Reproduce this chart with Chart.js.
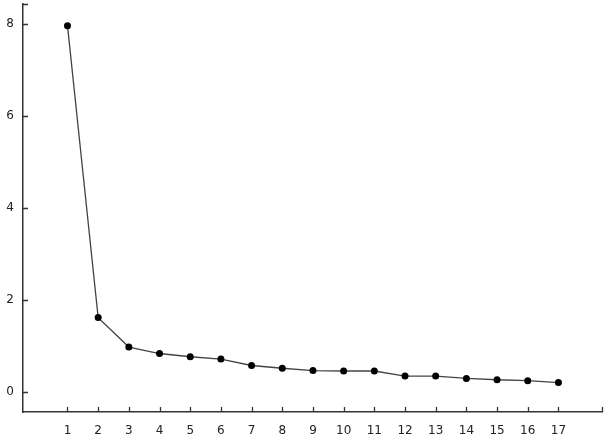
<!DOCTYPE html>
<html>
<head>
<meta charset="utf-8">
<script src="https://cdn.jsdelivr.net/npm/chart.js@4"></script>
<style>
  body { margin: 0; background: #fff; }
</style>
</head>
<body>
<canvas id="screeChart" width="606" height="439"></canvas>
<script>
var components = [1, 2, 3, 4, 5, 6, 7, 8, 9, 10, 11, 12, 13, 14, 15, 16, 17];
var eigenvalues = [7.96, 1.62, 0.98, 0.84, 0.77, 0.72, 0.58, 0.52, 0.47, 0.46, 0.46, 0.35, 0.35, 0.30, 0.27, 0.25, 0.21];
var yTicks = [0, 2, 4, 6, 8];

// small tick marks drawn inside the plot, like the original
var innerTicks = {
  id: "innerTicks",
  afterDraw: function (chart) {
    var ctx = chart.ctx;
    var x = chart.scales.x, y = chart.scales.y;
    ctx.save();
    ctx.strokeStyle = "#333";
    ctx.lineWidth = 1.3;
    ctx.beginPath();
    components.concat([x.max]).forEach(function (v) {
      var px = Math.round(x.getPixelForValue(v)) + 0.5;
      ctx.moveTo(px, y.bottom);
      ctx.lineTo(px, y.bottom - 5);
    });
    yTicks.concat([y.max]).forEach(function (v) {
      var py = Math.round(y.getPixelForValue(v)) + 0.5;
      ctx.moveTo(x.left, py);
      ctx.lineTo(x.left + 5, py);
    });
    ctx.stroke();
    ctx.restore();
  }
};

var ctx = document.getElementById("screeChart").getContext("2d");
var screeChart = new Chart(ctx, {
  type: "line",
  data: {
    datasets: [
      {
        data: components.map(function (c, i) { return { x: c, y: eigenvalues[i] }; }),
        borderColor: "#444",
        borderWidth: 1.3,
        pointRadius: 3.5,
        pointBackgroundColor: "#000",
        pointBorderColor: "#000",
        pointBorderWidth: 0,
        tension: 0
      }
    ]
  },
  options: {
    responsive: false,
    animation: false,
    layout: { padding: { top: 4, right: 3, left: 0, bottom: 0 } },
    plugins: { legend: { display: false }, tooltip: { enabled: false } },
    scales: {
      x: {
        type: "linear",
        min: -0.45,
        max: 18.42,
        afterBuildTicks: function (scale) {
          scale.ticks = components.map(function (v) { return { value: v }; });
        },
        afterFit: function (scale) {
          scale.height = 27;
          scale.paddingLeft = 0;
          scale.paddingRight = 0;
        },
        grid: { display: false, drawTicks: false },
        border: { display: true, color: "#333", width: 1.5 },
        ticks: {
          padding: 12,
          color: "#222",
          font: { family: "DejaVu Sans", size: 12 },
          autoSkip: false,
          maxRotation: 0
        }
      },
      y: {
        type: "linear",
        min: -0.43,
        max: 8.43,
        afterBuildTicks: function (scale) {
          scale.ticks = yTicks.map(function (v) { return { value: v }; });
        },
        afterFit: function (scale) {
          scale.width = 23;
          scale.paddingTop = 0;
          scale.paddingBottom = 0;
        },
        grid: { display: false, drawTicks: false },
        border: { display: true, color: "#333", width: 1.5 },
        ticks: {
          padding: 9,
          color: "#222",
          font: { family: "DejaVu Sans", size: 12 }
        }
      }
    }
  },
  plugins: [innerTicks]
});
</script>
</body>
</html>
